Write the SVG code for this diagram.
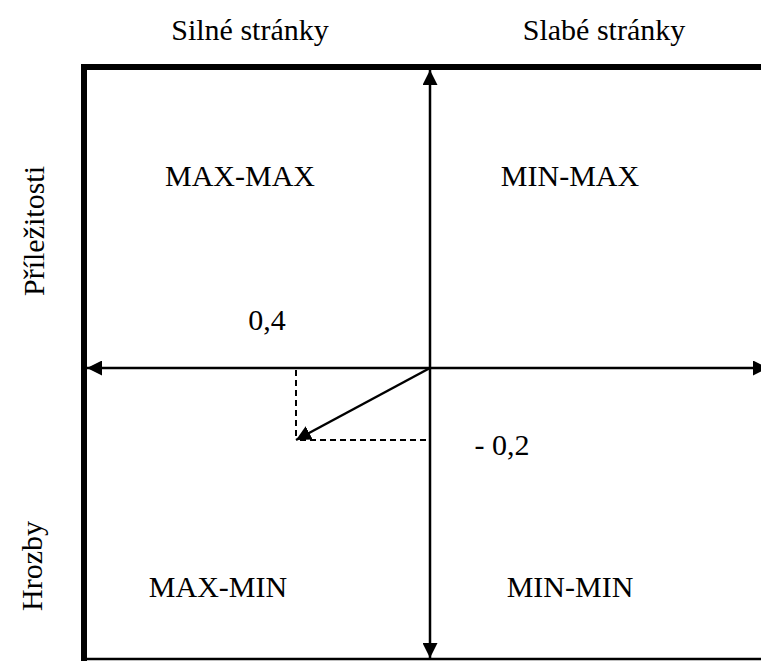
<svg xmlns="http://www.w3.org/2000/svg" width="761" height="661" viewBox="0 0 761 661">
<style>
.t{font-family:"Liberation Serif","Times New Roman",serif;font-size:30px;fill:#000;text-anchor:middle}
.ax{stroke:#000;stroke-width:2.5;fill:none}
.d{stroke:#000;stroke-width:2;stroke-dasharray:6,4;fill:none}
</style>
<defs>
<marker id="ah" markerWidth="15" markerHeight="15" viewBox="0 0 14 14" refX="14" refY="7" orient="auto" markerUnits="userSpaceOnUse">
<path d="M0,0 L14,7 L0,14 Z" fill="#000"/>
</marker>
</defs>
<rect width="761" height="661" fill="#fff"/>
<g id="frame">
<line x1="84" y1="64" x2="84" y2="661" stroke="#000" stroke-width="6"/>
<line x1="81" y1="67" x2="761" y2="67" stroke="#000" stroke-width="6"/>
<line x1="84" y1="659" x2="761" y2="659" stroke="#000" stroke-width="2.5"/>
</g>
<g id="connectors">
<line class="ax" x1="430" y1="368" x2="430" y2="70" marker-end="url(#ah)"/>
<line class="ax" x1="430" y1="368" x2="430" y2="658" marker-end="url(#ah)"/>
<line class="ax" x1="430" y1="368" x2="87" y2="368" marker-end="url(#ah)"/>
<line class="ax" x1="430" y1="368" x2="768" y2="368" marker-end="url(#ah)"/>
<line class="d" x1="296" y1="370" x2="296" y2="440"/>
<line class="d" x1="300" y1="440" x2="430" y2="440"/>
<line class="ax" x1="430" y1="368" x2="296" y2="440" marker-end="url(#ah)"/>
</g>
<g id="labels">
<text class="t" x="250" y="40">Silné stránky</text>
<text class="t" x="604" y="40">Slabé stránky</text>
<text class="t" transform="translate(44 231) rotate(-90)" x="0" y="0">Příležitosti</text>
<text class="t" transform="translate(42 566) rotate(-90)" x="0" y="0">Hrozby</text>
</g>
<g id="q1"><text class="t" x="240" y="186">MAX-MAX</text></g>
<g id="q2"><text class="t" x="570" y="186">MIN-MAX</text></g>
<g id="q3"><text class="t" x="218" y="597">MAX-MIN</text></g>
<g id="q4"><text class="t" x="570" y="597">MIN-MIN</text></g>
<g id="v1"><text class="t" x="267" y="330">0,4</text></g>
<g id="v2"><text class="t" x="502" y="455">- 0,2</text></g>
</svg>
